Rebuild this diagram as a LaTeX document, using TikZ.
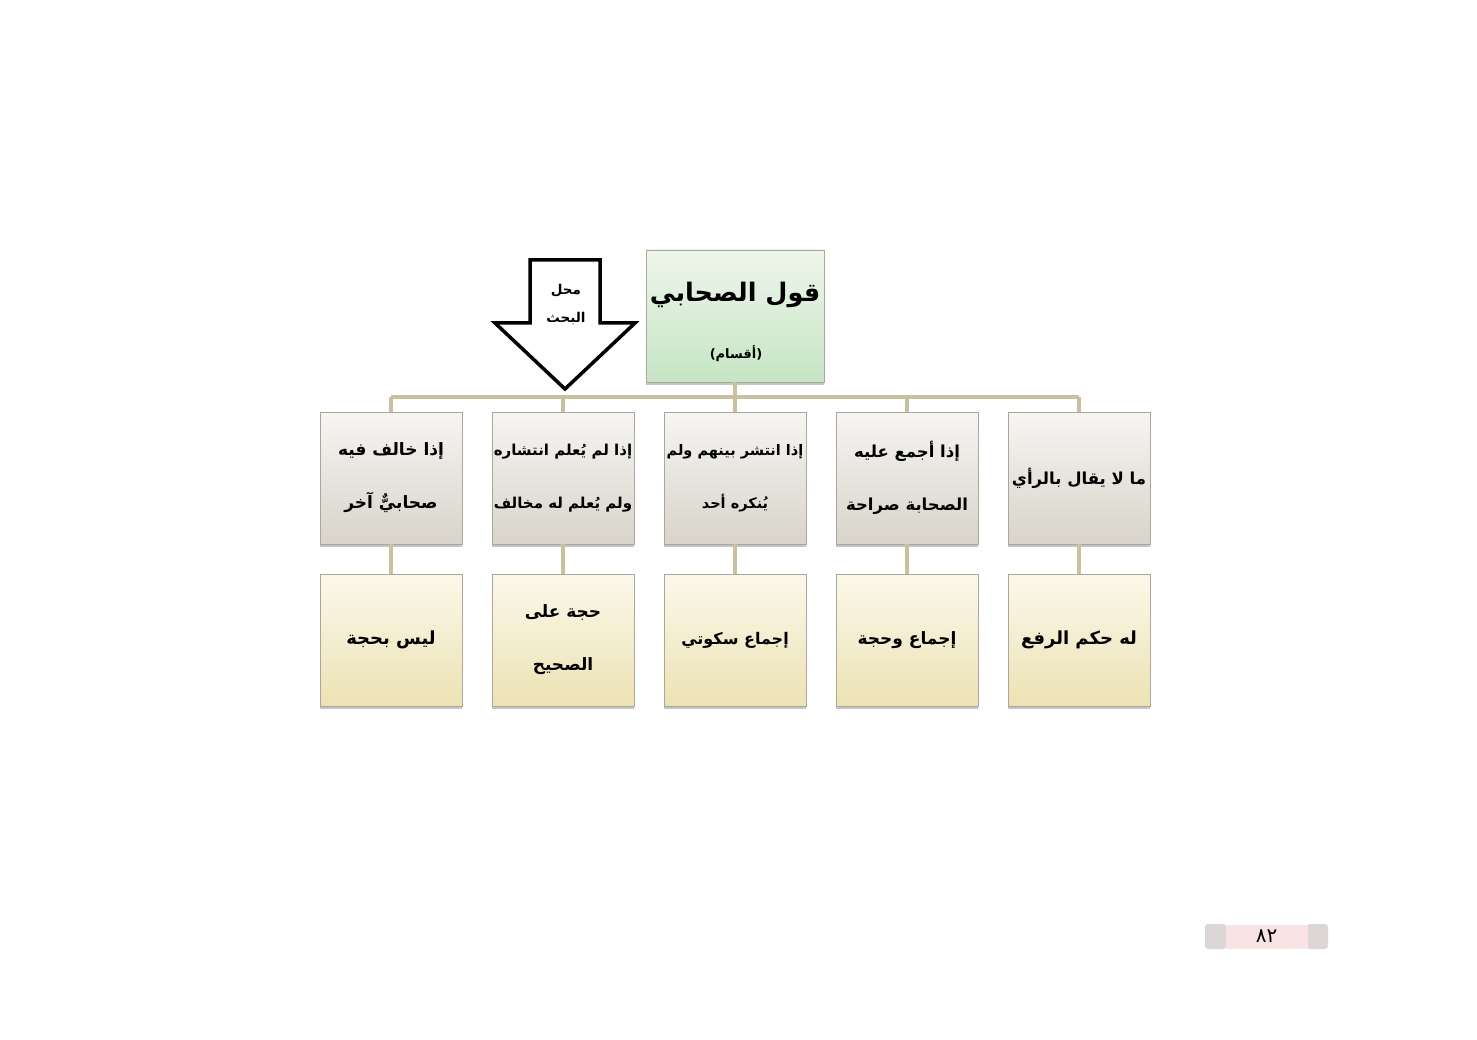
\documentclass[tikz,border=0pt]{standalone}
\usepackage{fontspec}
\usetikzlibrary{shadows}
\TeXXeTstate=1
\newfontfamily\arabicfont[Script=Arabic]{DejaVu Sans}
\definecolor{conn}{HTML}{C8C0A0}
\definecolor{boxline}{HTML}{ABA69A}
\definecolor{greenT}{HTML}{EEF6EC}
\definecolor{greenB}{HTML}{C6E5C4}
\definecolor{oneT}{HTML}{F6F5F2}
\definecolor{oneB}{HTML}{D8D4CA}
\definecolor{twoT}{HTML}{FBF8EA}
\definecolor{twoB}{HTML}{ECE2B4}
\definecolor{pinkbar}{HTML}{F8E4E4}
\definecolor{ornament}{HTML}{DDD6D6}
\tikzset{
  boxbase/.style={draw=boxline, line width=0.8pt, minimum width=142pt, minimum height=132pt,
    inner sep=0pt, align=center,
    drop shadow={shadow xshift=0pt, shadow yshift=-3pt, opacity=0.45},
    font=\arabicfont\bfseries\fontsize{17}{53}\selectfont},
  rowone/.style={boxbase, top color=oneT, bottom color=oneB},
  rowtwo/.style={boxbase, top color=twoT, bottom color=twoB},
  conline/.style={draw=conn, line width=3.5pt},
  plain/.style={inner sep=0pt, align=center}
}
\begin{document}
\begin{tikzpicture}[x=1pt, y=-1pt]
\useasboundingbox[fill=white] (0,0) rectangle (1477,1040);
% connectors
\coordinate (busL) at (391,397);
\coordinate (busR) at (1079,397);
% top box
\node[draw=boxline, line width=0.8pt, minimum width=178pt, minimum height=132pt, inner sep=0pt,
  text height=19pt, text depth=48pt, top color=greenT, bottom color=greenB,
  drop shadow={shadow xshift=0pt, shadow yshift=-3pt, opacity=0.45},
  font=\arabicfont\bfseries\fontsize{25.5}{30}\selectfont] (top) at (735,316)
  {\beginR قول الصحابي\endR};
\node[plain, font=\arabicfont\bfseries\fontsize{13}{18}\selectfont] (sub) at (736,354) {\beginR (أقسام)\endR};
% row one
\node[rowone] (a1) at (391,478) {\beginR إذا خالف فيه\endR\\\beginR صحابيٌّ آخر\endR};
\node[rowone, font=\arabicfont\bfseries\fontsize{15}{53}\selectfont] (a2) at (563,478) {\beginR إذا لم يُعلم انتشاره\endR\\\beginR ولم يُعلم له مخالف\endR};
\node[rowone, font=\arabicfont\bfseries\fontsize{14.5}{53}\selectfont] (a3) at (735,478) {\beginR إذا انتشر بينهم ولم\endR\\\beginR يُنكره أحد\endR};
\node[rowone, font=\arabicfont\bfseries\fontsize{16.5}{53}\selectfont] (a4) at (907,478) {\beginR إذا أجمع عليه\endR\\\beginR الصحابة صراحة\endR};
\node[rowone, font=\arabicfont\bfseries\fontsize{16.5}{53}\selectfont] (a5) at (1079,478) {\beginR ما لا يقال بالرأي\endR};
% row two
\node[rowtwo, font=\arabicfont\bfseries\fontsize{18}{53}\selectfont] (b1) at (391,640) {\beginR ليس بحجة\endR};
\node[rowtwo] (b2) at (563,640) {\beginR حجة على\endR\\\beginR الصحيح\endR};
\node[rowtwo, font=\arabicfont\bfseries\fontsize{16}{53}\selectfont] (b3) at (735,640) {\beginR إجماع سكوتي\endR};
\node[rowtwo] (b4) at (907,640) {\beginR إجماع وحجة\endR};
\node[rowtwo, font=\arabicfont\bfseries\fontsize{18}{53}\selectfont] (b5) at (1079,640) {\beginR له حكم الرفع\endR};
% lines
\draw[conline] (busL) -- (busR);
\draw[conline] (top.south) -- (top.south |- busL);
\foreach \i in {1,...,5}{
  \draw[conline] (a\i.north) -- (a\i.north |- busL);
  \draw[conline] (a\i.south) -- (b\i.north);
}
% arrow
\draw[line width=3.5pt, fill=white, miter limit=10] (530,260) -- (600,260) -- (600,323) -- (635,323) -- (565,389) -- (495,323) -- (530,323) -- cycle;
\node[plain, font=\arabicfont\bfseries\fontsize{13.5}{28}\selectfont] (arrowtext) at (566,305) {\beginR محل\endR\\\beginR البحث\endR};
% page number
\fill[ornament, rounded corners=3pt] (1205,924) rectangle (1226,949);
\fill[ornament, rounded corners=3pt] (1307,924) rectangle (1328,949);
\node[fill=pinkbar, minimum width=82pt, minimum height=24pt, inner sep=0pt,
  font=\arabicfont\fontsize{20}{22}\selectfont] (pagenum) at (1266.5,936.5) {٨٢};
\end{tikzpicture}
\end{document}
